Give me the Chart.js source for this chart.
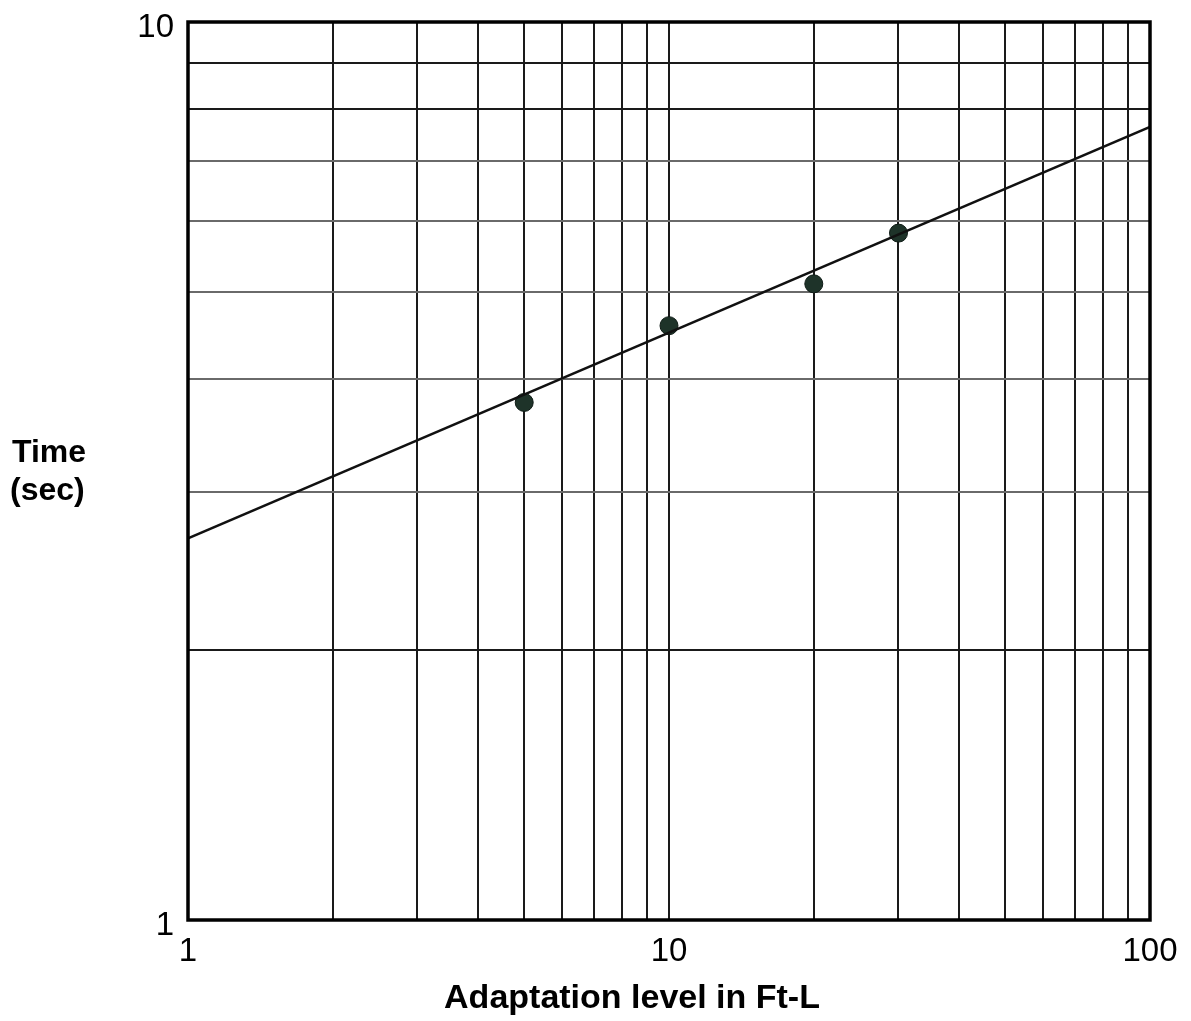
<!DOCTYPE html>
<html>
<head>
<meta charset="utf-8">
<script src="https://cdn.jsdelivr.net/npm/chart.js@4"></script>
<style>
  html, body { margin: 0; padding: 0; background: #fff; }
  canvas { display: block; }
</style>
</head>
<body>
<canvas id="chart" width="1191" height="1021"></canvas>
<script>
// measured points (adaptation level in ft-L, time in sec)
const levels = [5, 10, 20, 30]
const times = [3.77, 4.59, 5.11, 5.82]

// fitted line, read at the two ends of the plot
const fitLevels = [1, 100]
const fitTimes = [2.66, 7.64]

const xGridValues = [1, 2, 3, 4, 5, 6, 7, 8, 9, 10, 20, 30, 40, 50, 60, 70, 80, 90, 100]
const yGridValues = [1, 2, 3, 4, 5, 6, 7, 8, 9, 10]
const xTickLabels = [1, 10, 100]
const yTickLabels = [1, 10]

const font = 'Liberation Sans, Arial, Helvetica, sans-serif'

const titles = {
    id: 'titles',
    afterDraw(chart) {
        const { ctx, chartArea } = chart
        ctx.save()
        // frame
        ctx.strokeStyle = '#000'
        ctx.lineWidth = 3.5
        ctx.strokeRect(chartArea.left, chartArea.top, chartArea.right - chartArea.left, chartArea.bottom - chartArea.top)
        ctx.fillStyle = '#000'
        ctx.font = 'bold 34px ' + font
        ctx.textAlign = 'center'
        ctx.textBaseline = 'middle'
        ctx.fillText('Adaptation level in Ft-L', 632, 999)
        ctx.font = 'bold 32px ' + font
        ctx.textAlign = 'left'
        ctx.fillText('Time', 12, 453)
        ctx.fillText('(sec)', 10, 491)
        ctx.restore()
    },
}

new Chart(document.getElementById('chart'), {
    type: 'scatter',
    data: {
        datasets: [
            {
                label: 'fit',
                type: 'line',
                data: fitLevels.map((x, i) => ({ x, y: fitTimes[i] })),
                borderColor: '#111',
                borderWidth: 2.5,
                pointRadius: 0,
                fill: false,
            },
            {
                label: 'measured',
                data: levels.map((x, i) => ({ x, y: times[i] })),
                backgroundColor: '#1e3329',
                borderColor: '#0d1a14',
                borderWidth: 1,
                pointRadius: 9,
            },
        ],
    },
    plugins: [titles],
    options: {
        responsive: false,
        animation: false,
        layout: { padding: { top: 22, right: 41, left: 0, bottom: 0 } },
        plugins: { legend: { display: false }, tooltip: { enabled: false } },
        scales: {
            x: {
                type: 'logarithmic',
                min: 1,
                max: 100,
                afterBuildTicks(scale) { scale.ticks = xGridValues.map((value) => ({ value })) },
                afterFit(scale) { scale.height = 101 },
                border: { display: false },
                grid: { color: '#1a1a1a', lineWidth: 2, drawTicks: false },
                ticks: {
                    autoSkip: false,
                    maxRotation: 0,
                    padding: 12,
                    color: '#000',
                    font: { family: font, size: 33 },
                    callback: (v) => (xTickLabels.includes(v) ? String(v) : ''),
                },
            },
            y: {
                type: 'logarithmic',
                min: 1,
                max: 10,
                afterBuildTicks(scale) { scale.ticks = yGridValues.map((value) => ({ value })) },
                afterFit(scale) {
                    scale.width = 188
                    scale.paddingTop = 0
                    scale.paddingBottom = 0
                },
                border: { display: false },
                grid: {
                    color: (c) => {
                        const v = c.tick && c.tick.value
                        return v >= 3 && v <= 7 ? '#6a6a6a' : '#1a1a1a'
                    },
                    lineWidth: 2,
                    drawTicks: false,
                },
                ticks: {
                    autoSkip: false,
                    padding: 14,
                    labelOffset: 6,
                    color: '#000',
                    font: { family: font, size: 33 },
                    callback: (v) => (yTickLabels.includes(v) ? String(v) : ''),
                },
            },
        },
    },
})
</script>
</body>
</html>
